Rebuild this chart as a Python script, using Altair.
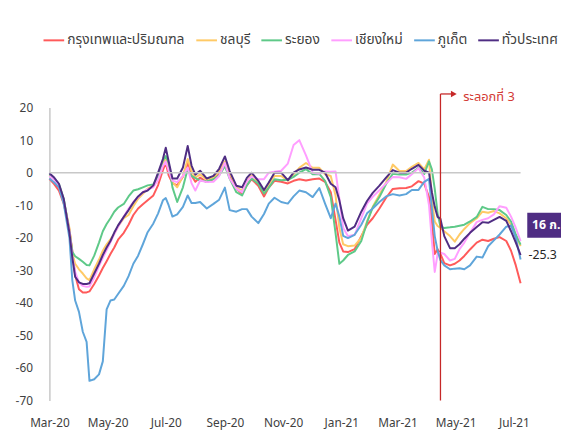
import altair as alt
import pandas as pd

dates = [
    "2020-03-01","2020-03-06","2020-03-11","2020-03-16","2020-03-22","2020-03-25","2020-03-28","2020-04-01","2020-04-05","2020-04-09",
    "2020-04-12","2020-04-17","2020-04-22","2020-04-26","2020-04-30","2020-05-04","2020-05-08","2020-05-12","2020-05-18","2020-05-23",
    "2020-05-28","2020-06-02","2020-06-07","2020-06-12","2020-06-18","2020-06-23","2020-06-28","2020-07-01","2020-07-04","2020-07-08",
    "2020-07-13","2020-07-19","2020-07-24","2020-07-28","2020-08-01","2020-08-06","2020-08-13","2020-08-20","2020-08-26","2020-09-01",
    "2020-09-06","2020-09-13","2020-09-19","2020-09-24","2020-09-29","2020-10-06","2020-10-12","2020-10-17","2020-10-23","2020-10-30",
    "2020-11-06","2020-11-12","2020-11-18","2020-11-25","2020-12-02","2020-12-09","2020-12-15","2020-12-21","2020-12-26","2020-12-30",
    "2021-01-03","2021-01-08","2021-01-15","2021-01-22","2021-01-28","2021-02-03","2021-02-10","2021-02-17","2021-02-24","2021-03-03",
    "2021-03-10","2021-03-16","2021-03-23","2021-03-29","2021-04-03","2021-04-06","2021-04-09","2021-04-12","2021-04-15","2021-04-19",
    "2021-04-25","2021-04-30","2021-05-05","2021-05-10","2021-05-16","2021-05-23","2021-05-29","2021-06-04","2021-06-10","2021-06-16",
    "2021-06-23","2021-06-28","2021-07-03","2021-07-08",
]

bangkok = [
    -1.9,-3.5,-5.5,-9.5,-17.5,-24,-31.5,-35.8,-36.8,-36.8,
    -36.5,-34.2,-31.6,-29.3,-27.2,-25,-23,-20.6,-18.5,-16,
    -13,-11,-9.7,-8.5,-7,-3.8,0.8,3,-0.8,-3.2,
    -3.9,-1.2,3,-0.9,-2.8,-1.5,-2.9,-2,-0.3,3,
    -0.8,-4.9,-6.5,-3.9,-2,-4,-7.3,-4.6,-2.5,-2.8,
    -3.3,-2.5,-2,-2.4,-2,-1.8,-2.8,-6,-14.5,-21.5,
    -24.2,-24.4,-23.5,-19.5,-16,-14,-11,-7.7,-5,-4.8,
    -4.7,-4.2,-2.6,-3.4,-7.5,-15,-25,-23.5,-25,-27.8,
    -28.5,-28,-27,-25.6,-23.6,-21.5,-20.6,-21,-20.3,-19.8,
    -21,-24,-28.5,-34,
]
chonburi = [
    -0.6,-2,-4,-8.5,-17,-25,-28,-29.7,-31,-32.5,
    -33,-29.7,-26.7,-24,-22,-20.5,-18.8,-16.5,-14,-13,
    -10.3,-8,-6.5,-4.9,-4,-0.5,3,4.2,1.5,-2.9,
    -4.5,-1,4.2,0.5,-1.5,-0.5,-2.2,-1.5,0.5,3.5,
    0,-4.5,-5.5,-2.5,-0.8,-3,-6,-3.5,-1,-1,
    -2.5,-0.5,1.5,3,1.5,1.5,-0.5,-1,-7,-17,
    -22,-22.6,-22.4,-20,-15,-10.5,-6.8,-3,2.5,0.5,
    0.5,1.8,3,1,4,-8,-15,-16.4,-17,-18,
    -19.5,-21.2,-19,-17.3,-15.5,-14,-12,-12.3,-11.8,-12.5,
    -14,-16,-19.5,-22.6,
]
rayong = [
    -0.5,-1.8,-3.5,-8,-18,-24.3,-25.7,-26.5,-27.4,-28.4,
    -28.5,-25.5,-21.5,-18,-15.8,-14,-12,-10.7,-9.6,-7.3,
    -5.5,-5.1,-4.5,-3.9,-3.6,-0.9,3.8,5.1,3,-4.5,
    -9,-4.5,1.1,-1,-1.7,-2.4,-2.7,-2,-0.8,2,
    -1.8,-6,-7,-3.9,-1.8,-3.4,-6.4,-4.6,-2,-2.3,
    -2.2,-1.3,0,1.1,-0.5,-0.4,-2.5,-7.5,-18.6,-28,
    -27,-25.3,-24.2,-21,-15.3,-10.7,-7.5,-3.5,-0.3,-0.6,
    -0.6,0,1.5,-0.4,3.5,1,-5,-12.5,-16.6,-17,
    -16.8,-16.6,-16.3,-16,-15,-13.6,-10.5,-11.2,-11.2,-11.5,
    -13,-15,-19,-22.1,
]
chiangmai = [
    -1,-2.2,-4.2,-8.8,-18,-26,-30.5,-33.8,-34.8,-35.1,
    -35,-32.2,-28.7,-26.2,-23.8,-21.4,-18.9,-16.6,-13.5,-11,
    -9,-7.5,-6,-5.1,-4.5,-2.2,2,3.4,0.6,-2.5,
    -2.9,-1,1.6,-3.2,-5.5,-2.4,-2.9,-2.8,-1,3,
    -1.8,-4.9,-6,-2.6,-1.2,-2,-2,0,0.3,0.6,
    2.8,8.5,10,5.3,0,-0.3,0.4,0.3,0.4,-8,
    -17,-19.5,-19.1,-14,-9.5,-7.4,-5.4,-3.3,-1.3,-1.4,
    -1.9,-0.5,1.4,-1.5,-10,-21,-30.5,-25,-24.6,-25,
    -27,-26.5,-23.5,-21.5,-18.5,-15.2,-14.5,-14,-12.8,-10.3,
    -10.8,-13.5,-17,-21,
]
phuket = [
    -1.8,-3,-4.5,-9.5,-20,-33,-39.3,-42.8,-48.9,-52,
    -64,-63.5,-62,-58,-42,-39.3,-39,-37.3,-34.8,-31.8,
    -28,-25.5,-22,-18.3,-15.6,-12.5,-8.5,-7.8,-10,-13.5,
    -12.8,-10.5,-7,-9.3,-9.3,-9,-11,-9.6,-8.3,-4.6,
    -11.5,-12,-11.2,-11.2,-13.5,-15.5,-12.7,-9.5,-7.7,-9,
    -9.5,-7.3,-5.5,-6,-7.5,-4.7,-9.5,-14,-9.5,-13.5,
    -19.4,-20.1,-19.1,-16,-12.5,-11,-9,-7.3,-6.6,-7,
    -6.6,-5.3,-5.3,-2.8,-1.9,-11,-19.5,-24,-26.9,-28.5,
    -29.7,-29.5,-29.4,-29.7,-28.5,-25.8,-26.1,-22.6,-20.8,-19,
    -16.6,-16.2,-20,-26.7,
]
national = [
    -0.2,-1.5,-3.4,-8,-18.5,-26,-32,-33.7,-34.2,-34.2,
    -34,-31,-28,-25.3,-23,-21,-18.4,-16.2,-13.6,-11.5,
    -9.2,-7.3,-6,-5.5,-3.9,0,4.2,7.7,3.5,-1.8,
    -1.8,1.6,8.2,2.2,-0.6,0.6,-1.8,-1,1.2,5,
    0.5,-4,-4.5,-1.6,0,-2.5,-5.3,-3,0,0,
    -2.3,0,1,1.6,0.9,0.9,0,-3.4,-4.5,-8.5,
    -14,-17.8,-16.6,-12,-8.7,-6.2,-4,-1.5,0.8,0,
    0,1.2,2.4,0.6,0,-6,-10.5,-13.6,-14.2,-19.5,
    -23.2,-23.2,-22,-20.3,-18.5,-16.7,-15.2,-15.4,-14.5,-13.6,
    -14.8,-18,-21.5,-25.3,
]

series_names = ["กรุงเทพและปริมณฑล", "ชลบุรี", "ระยอง", "เชียงใหม่", "ภูเก็ต", "ทั่วประเทศ"]
series_values = [bangkok, chonburi, rayong, chiangmai, phuket, national]
series_colors = ["#FF5A5A", "#FFCA66", "#5EC988", "#FF9EFF", "#5FA5DA", "#4F2D83"]
series_widths = [2, 2, 2, 2, 2, 4]

y_ticks = [20, 10, 0, -10, -20, -30, -40, -50, -60, -70]

for v in series_values:
    assert len(v) == len(dates), len(v)

rows = []
for name, vals in zip(series_names, series_values):
    for d, v in zip(dates, vals):
        rows.append({"date": d, "value": v, "series": name})
df = pd.DataFrame(rows)

wave_label = "ระลอกที่ 3"
wave_date = "2021-04-15"
arrow_end = "2021-04-27"
arrow_tip = "2021-04-29"
wave_text_date = "2021-05-09"
wave_top = 24.2
wave_text_y = 23.3
end_label = "16 ก."
last_date = dates[-1]
last_value = national[-1]

FONT = "Tahoma, 'Leelawadee UI', 'Noto Sans Thai', 'Noto Sans', sans-serif"

xscale = alt.Scale(
    type="utc",
    domain=[alt.DateTime(year=2020, month=3, date=1, utc=True),
            alt.DateTime(year=2021, month=7, date=8, utc=True)],
)
yscale = alt.Scale(domain=[-70, 20], nice=False, zero=False)

tick_dates = [alt.DateTime(year=y, month=m, date=1, utc=True) for (y, m) in
              [(2020, 3), (2020, 5), (2020, 7), (2020, 9), (2020, 11), (2021, 1), (2021, 3), (2021, 5), (2021, 7)]]

lines = alt.Chart(df).mark_line(strokeJoin="round").encode(
    x=alt.X("date:T", scale=xscale, title=None,
            axis=alt.Axis(values=tick_dates, labelExpr="utcFormat(datum.value, '%b-%y')",
                          tickCount=20,
                          domain=False, ticks=False, grid=False, labelPadding=17,
                          labelOverlap=False, labelFlush=False, labelBound=False,
                          labelFontSize=12, labelColor="#404040", labelFont=FONT)),
    y=alt.Y("value:Q", scale=yscale, title=None,
            axis=alt.Axis(values=y_ticks, tickCount=20, domain=True, domainColor="#C8C8C8",
                          domainWidth=1.5, ticks=False, grid=False, labelPadding=17,
                          labelOverlap=False, labelFlush=False, labelBound=False,
                          labelFontSize=12, labelColor="#404040", labelFont=FONT)),
    color=alt.Color("series:N", scale=alt.Scale(domain=series_names, range=series_colors),
                    legend=alt.Legend(orient="none", legendX=-7, legendY=-80, direction="horizontal",
                                      title=None, symbolType="stroke", symbolSize=440,
                                      symbolStrokeWidth=2.5, labelFontSize=14, labelFont=FONT,
                                      labelColor="#404040", columnPadding=7, labelOffset=2,
                                      labelLimit=300)),
    strokeWidth=alt.StrokeWidth("series:N", scale=alt.Scale(domain=series_names, range=series_widths),
                                legend=None),
)

zero = alt.Chart(pd.DataFrame({"y": [0]})).mark_rule(color="#C8C8C8", strokeWidth=1.5).encode(
    y="y:Q"
)

wave_df = pd.DataFrame({"date": [wave_date], "top": [wave_top], "bottom": [-70],
                        "end": [arrow_end], "tip": [arrow_tip],
                        "tdate": [wave_text_date], "ty": [wave_text_y], "label": [wave_label]})
wave_rule = alt.Chart(wave_df).mark_rule(color="#C62828", strokeWidth=1.3).encode(
    x="date:T", y="top:Q", y2="bottom:Q")
arrow_rule = alt.Chart(wave_df).mark_rule(color="#C62828", strokeWidth=1.3).encode(
    x="date:T", x2="end:T", y="top:Q")
arrow_head = alt.Chart(wave_df).mark_point(shape="triangle-right", filled=True, color="#C62828",
                                           size=45, opacity=1).encode(x="tip:T", y="top:Q")
wave_text = alt.Chart(wave_df).mark_text(align="left", baseline="middle", color="#D33A35",
                                         fontSize=13, font=FONT).encode(
    x="tdate:T", y="ty:Q", text="label:N")

end_df = pd.DataFrame({"date": [last_date], "value": [last_value], "label": [f"{last_value}"],
                       "bx": ["2021-07-15"], "bx2": ["2021-08-25"], "by": [-12.3], "by2": [-20.0],
                       "tx": ["2021-07-20"], "ty": [-16.0], "blabel": [end_label]})
end_text = alt.Chart(end_df).mark_text(align="left", baseline="middle", dx=8, fontSize=12.5,
                                       color="#262626", font=FONT).encode(
    x="date:T", y="value:Q", text="label:N")
box = alt.Chart(end_df).mark_rect(color="#4F2D83").encode(
    x="bx:T", x2="bx2:T", y="by:Q", y2="by2:Q")
box_text = alt.Chart(end_df).mark_text(align="left", baseline="middle", color="white",
                                       fontSize=12.5, fontWeight="bold", font=FONT).encode(
    x="tx:T", y="ty:Q", text="blabel:N")

chart = alt.layer(lines, zero, wave_rule, arrow_rule, arrow_head, wave_text, end_text, box, box_text).properties(
    width=478, height=297,
    autosize=alt.AutoSizeParams(type="none"),
    padding={"left": 42, "top": 98, "right": 41, "bottom": 29},
    background="white",
).configure_view(stroke=None).configure_axis(labelOverlap=False)

chart.save("out.html", embed_options={"renderer": "svg", "actions": False})
